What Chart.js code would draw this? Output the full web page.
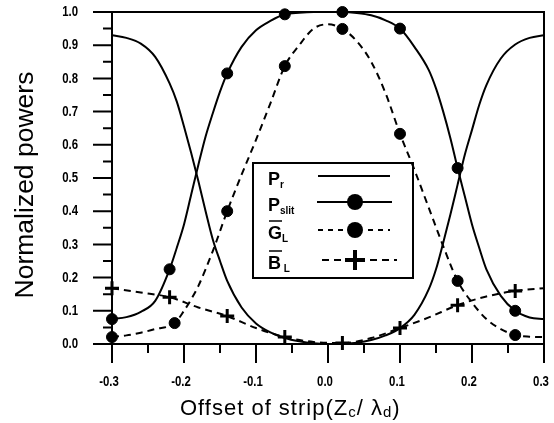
<!DOCTYPE html>
<html>
<head>
<meta charset="utf-8">
<script src="https://cdn.jsdelivr.net/npm/chart.js@4/dist/chart.umd.min.js"></script>
<style>
  html, body { margin: 0; padding: 0; background: #fff; }
  canvas { display: block; }
</style>
</head>
<body>
<canvas id="powers" width="554" height="423"></canvas>
<script>
// Offset grid shared by the two solid curves (Zc / lambda_d)
const offsets = [-0.3, -0.28, -0.26, -0.24, -0.22, -0.21, -0.2, -0.19, -0.18, -0.17, -0.16, -0.15, -0.14, -0.12, -0.1,
  -0.08, -0.06, -0.04, -0.02, 0, 0.02, 0.04, 0.06, 0.08, 0.1, 0.12, 0.14, 0.15, 0.16, 0.17, 0.18, 0.19, 0.2, 0.21,
  0.22, 0.24, 0.26, 0.28, 0.3];
const pR = [0.93, 0.922, 0.905, 0.865, 0.785, 0.73, 0.655, 0.575, 0.49, 0.40, 0.315, 0.25, 0.19, 0.11, 0.062,
  0.035, 0.018, 0.008, 0.002, 0.0, 0.001, 0.004, 0.012, 0.026, 0.048, 0.088, 0.165, 0.225, 0.305, 0.39, 0.48, 0.57, 0.645, 0.72,
  0.78, 0.86, 0.902, 0.922, 0.93];
const pSlit = [0.075, 0.081, 0.097, 0.13, 0.225, 0.29, 0.36, 0.45, 0.54, 0.625, 0.695, 0.76, 0.815, 0.895, 0.945,
  0.973, 0.993, 0.998, 1.0, 1.0, 1.0, 0.997, 0.99, 0.975, 0.95, 0.895, 0.825, 0.77, 0.70, 0.62, 0.53, 0.445, 0.36, 0.29,
  0.225, 0.145, 0.10, 0.08, 0.075];

// computed points (markers)
const markX = [-0.3, -0.22, -0.14, -0.06, 0.02, 0.1, 0.18, 0.26];
const pSlitMarks = [0.075, 0.225, 0.815, 0.993, 1.0, 0.95, 0.53, 0.10];

// normalized conductance G_L
const gX = [-0.3, -0.28, -0.26, -0.24, -0.213, -0.2, -0.19, -0.18, -0.16, -0.14, -0.12, -0.1, -0.08, -0.06, -0.04, -0.02,
  0, 0.02, 0.04, 0.06, 0.08, 0.1, 0.12, 0.14, 0.16, 0.18, 0.2, 0.22, 0.24, 0.26, 0.28, 0.3];
const gL = [0.021, 0.026, 0.034, 0.045, 0.063, 0.10, 0.135, 0.175, 0.28, 0.40, 0.51, 0.615, 0.725, 0.837, 0.90, 0.95,
  0.963, 0.949, 0.912, 0.85, 0.755, 0.633, 0.525, 0.41, 0.295, 0.19, 0.125, 0.075, 0.045, 0.027, 0.022, 0.021];
const gMarkX = [-0.3, -0.213, -0.14, -0.06, 0.02, 0.1, 0.18, 0.26];
const gMarks = [0.021, 0.063, 0.40, 0.837, 0.949, 0.633, 0.19, 0.027];

// normalized susceptance B_L
const bX = [-0.3, -0.26, -0.22, -0.18, -0.14, -0.1, -0.06, -0.02, 0.02, 0.06, 0.1, 0.14, 0.18, 0.22, 0.26, 0.3];
const bL = [0.168, 0.155, 0.141, 0.11, 0.084, 0.048, 0.021, 0.006, 0.003, 0.018, 0.048, 0.08, 0.117, 0.143, 0.16, 0.168];
const bMarks = [0.168, 0.141, 0.084, 0.021, 0.003, 0.048, 0.117, 0.16];

const xTicks = [-0.3, -0.2, -0.1, 0.0, 0.1, 0.2, 0.3];
const yTicks = [0.0, 0.1, 0.2, 0.3, 0.4, 0.5, 0.6, 0.7, 0.8, 0.9, 1.0];

const pts = (xs, ys) => xs.map((x, i) => ({ x: x, y: ys[i] }));
const fmt = v => (Math.abs(v) < 1e-9 ? 0 : v).toFixed(1);

const SANS = "'Liberation Sans', Arial, sans-serif";
const DASH = [7, 5];

function curve(data, dashed) {
  return {
    data: data, showLine: true, borderColor: '#000', borderWidth: 2, pointRadius: 0,
    borderDash: dashed ? DASH : [], cubicInterpolationMode: 'monotone', clip: false
  };
}

function marks(data, style) {
  return {
    data: data, showLine: false, pointStyle: style, clip: false,
    pointRadius: style === 'cross' ? 7 : 5.5, borderWidth: style === 'cross' ? 3 : 1,
    backgroundColor: '#000', borderColor: '#000'
  };
}

// axes box with outward major/minor ticks and narrow bold tick labels
const frame = {
  id: 'frame',
  beforeDatasetsDraw(chart) {
    const { ctx, chartArea: a, scales: { x, y } } = chart;
    ctx.save();
    ctx.strokeStyle = '#000';
    ctx.lineWidth = 2;
    ctx.beginPath();
    ctx.moveTo(a.left - 19, a.top); ctx.lineTo(a.right, a.top);
    ctx.lineTo(a.right, a.bottom); ctx.lineTo(a.left - 19, a.bottom);
    ctx.moveTo(a.left, a.top); ctx.lineTo(a.left, a.bottom);
    for (let i = 0; i <= 20; i++) {
      const py = y.getPixelForValue(i * 0.05);
      ctx.moveTo(a.left - (i % 2 ? 9 : 19), py); ctx.lineTo(a.left, py);
    }
    for (let i = 0; i <= 12; i++) {
      const px = x.getPixelForValue(-0.3 + i * 0.05);
      ctx.moveTo(px, a.bottom); ctx.lineTo(px, a.bottom + (i % 2 ? 9 : 19));
    }
    ctx.stroke();

    // labels squeezed horizontally to get the narrow look
    const sx = 0.76;
    ctx.fillStyle = '#000';
    ctx.font = 'bold 15px ' + SANS;
    ctx.textBaseline = 'middle';
    ctx.textAlign = 'right';
    y.ticks.forEach(t => {
      ctx.save();
      ctx.translate(a.left - 34, y.getPixelForValue(t.value));
      ctx.scale(sx, 1);
      ctx.fillText(fmt(t.value), 0, 0);
      ctx.restore();
    });
    ctx.textAlign = 'center';
    x.ticks.forEach(t => {
      ctx.save();
      ctx.translate(x.getPixelForValue(t.value) - 3, a.bottom + 38);
      ctx.scale(sx, 1);
      ctx.fillText(fmt(t.value), 0, 0);
      ctx.restore();
    });
    ctx.restore();
  }
};

// subscripted label pieces: [text, isSub]
function drawPieces(ctx, x, base, pieces, big, small, subDrop) {
  pieces.forEach(([t, sub]) => {
    ctx.font = sub ? small : big;
    ctx.fillText(t, x, sub ? base + subDrop : base);
    x += ctx.measureText(t).width;
  });
  return x;
}

const annotations = {
  id: 'annotations',
  afterDraw(chart) {
    const { ctx, chartArea: a } = chart;
    ctx.save();
    ctx.fillStyle = '#000';
    ctx.strokeStyle = '#000';
    ctx.textBaseline = 'alphabetic';

    // y axis title
    ctx.save();
    ctx.translate(33, 185);
    ctx.rotate(-Math.PI / 2);
    ctx.textAlign = 'center';
    ctx.font = '26.5px ' + SANS;
    ctx.fillText('Normalized powers', 0, 0);
    ctx.restore();

    // x axis title
    ctx.textAlign = 'left';
    ctx.letterSpacing = '1px';
    drawPieces(ctx, 180, 415, [['Offset of strip(Z', false], ['c', true], ['/ \u03bb', false], ['d', true], [')', false]],
      '22px ' + SANS, '15px ' + SANS, 2);
    ctx.letterSpacing = '0px';

    // legend box
    const L = a.left + 141, T = a.top + 151;
    ctx.lineWidth = 2;
    ctx.strokeRect(L, T, 160, 115);
    const big = 'bold 18px ' + SANS;
    const small = 'bold 10px ' + SANS;
    const rows = [
      { y: 13, label: [['P', false], ['r', true]], bar: false },
      { y: 39, label: [['P', false], ['slit', true]], bar: false },
      { y: 67, label: [['G', false], ['L', true]], bar: true },
      { y: 97, label: [['B', false], [' L', true]], bar: true }
    ];
    rows.forEach(r => {
      drawPieces(ctx, L + 15, T + r.y + 9, r.label, big, small, 3);
      if (r.bar) {
        ctx.lineWidth = 1.5;
        ctx.beginPath();
        ctx.moveTo(L + 16, T + r.y - 9); ctx.lineTo(L + 29, T + r.y - 9);
        ctx.stroke();
      }
    });
    const cx = L + 102;
    ctx.lineWidth = 2;
    // P_r
    ctx.beginPath(); ctx.moveTo(L + 65, T + 13); ctx.lineTo(L + 137, T + 13); ctx.stroke();
    // P_slit
    ctx.beginPath(); ctx.moveTo(L + 64, T + 39); ctx.lineTo(L + 139, T + 39); ctx.stroke();
    ctx.beginPath(); ctx.arc(cx, T + 39, 8, 0, Math.PI * 2); ctx.fill();
    // G_L
    ctx.setLineDash([5, 5]);
    ctx.beginPath(); ctx.moveTo(L + 65, T + 67); ctx.lineTo(L + 137, T + 67); ctx.stroke();
    ctx.setLineDash([]);
    ctx.fillStyle = '#fff';
    ctx.fillRect(cx - 10, T + 60, 20, 14);
    ctx.fillStyle = '#000';
    ctx.beginPath(); ctx.arc(cx, T + 67, 8, 0, Math.PI * 2); ctx.fill();
    // B_L
    ctx.setLineDash([7, 5]);
    ctx.beginPath(); ctx.moveTo(L + 69, T + 97); ctx.lineTo(L + 144, T + 97); ctx.stroke();
    ctx.setLineDash([]);
    ctx.lineWidth = 4;
    ctx.beginPath();
    ctx.moveTo(cx - 10, T + 97); ctx.lineTo(cx + 10, T + 97);
    ctx.moveTo(cx, T + 87); ctx.lineTo(cx, T + 107);
    ctx.stroke();
    ctx.restore();
  }
};

new Chart(document.getElementById('powers'), {
  type: 'scatter',
  data: {
    datasets: [
      curve(pts(offsets, pR), false),
      curve(pts(offsets, pSlit), false),
      curve(pts(gX, gL), true),
      curve(pts(bX, bL), true),
      marks(pts(markX, pSlitMarks), 'circle'),
      marks(pts(gMarkX, gMarks), 'circle'),
      marks(pts(markX, bMarks), 'cross')
    ]
  },
  options: {
    responsive: false,
    animation: false,
    devicePixelRatio: 1,
    layout: { padding: { top: 12, right: 6, left: 0, bottom: 0 } },
    plugins: { legend: { display: false }, tooltip: { enabled: false } },
    scales: {
      x: {
        type: 'linear', min: -0.3, max: 0.3,
        afterBuildTicks: s => { s.ticks = xTicks.map(v => ({ value: v })); },
        ticks: { display: false },
        grid: { display: false }, border: { display: false },
        afterFit: s => { s.height = 79; s.paddingLeft = 0; s.paddingRight = 0; }
      },
      y: {
        min: 0, max: 1,
        afterBuildTicks: s => { s.ticks = yTicks.map(v => ({ value: v })); },
        ticks: { display: false },
        grid: { display: false }, border: { display: false },
        afterFit: s => { s.width = 112; s.paddingTop = 0; s.paddingBottom = 0; }
      }
    }
  },
  plugins: [frame, annotations]
});
</script>
</body>
</html>
